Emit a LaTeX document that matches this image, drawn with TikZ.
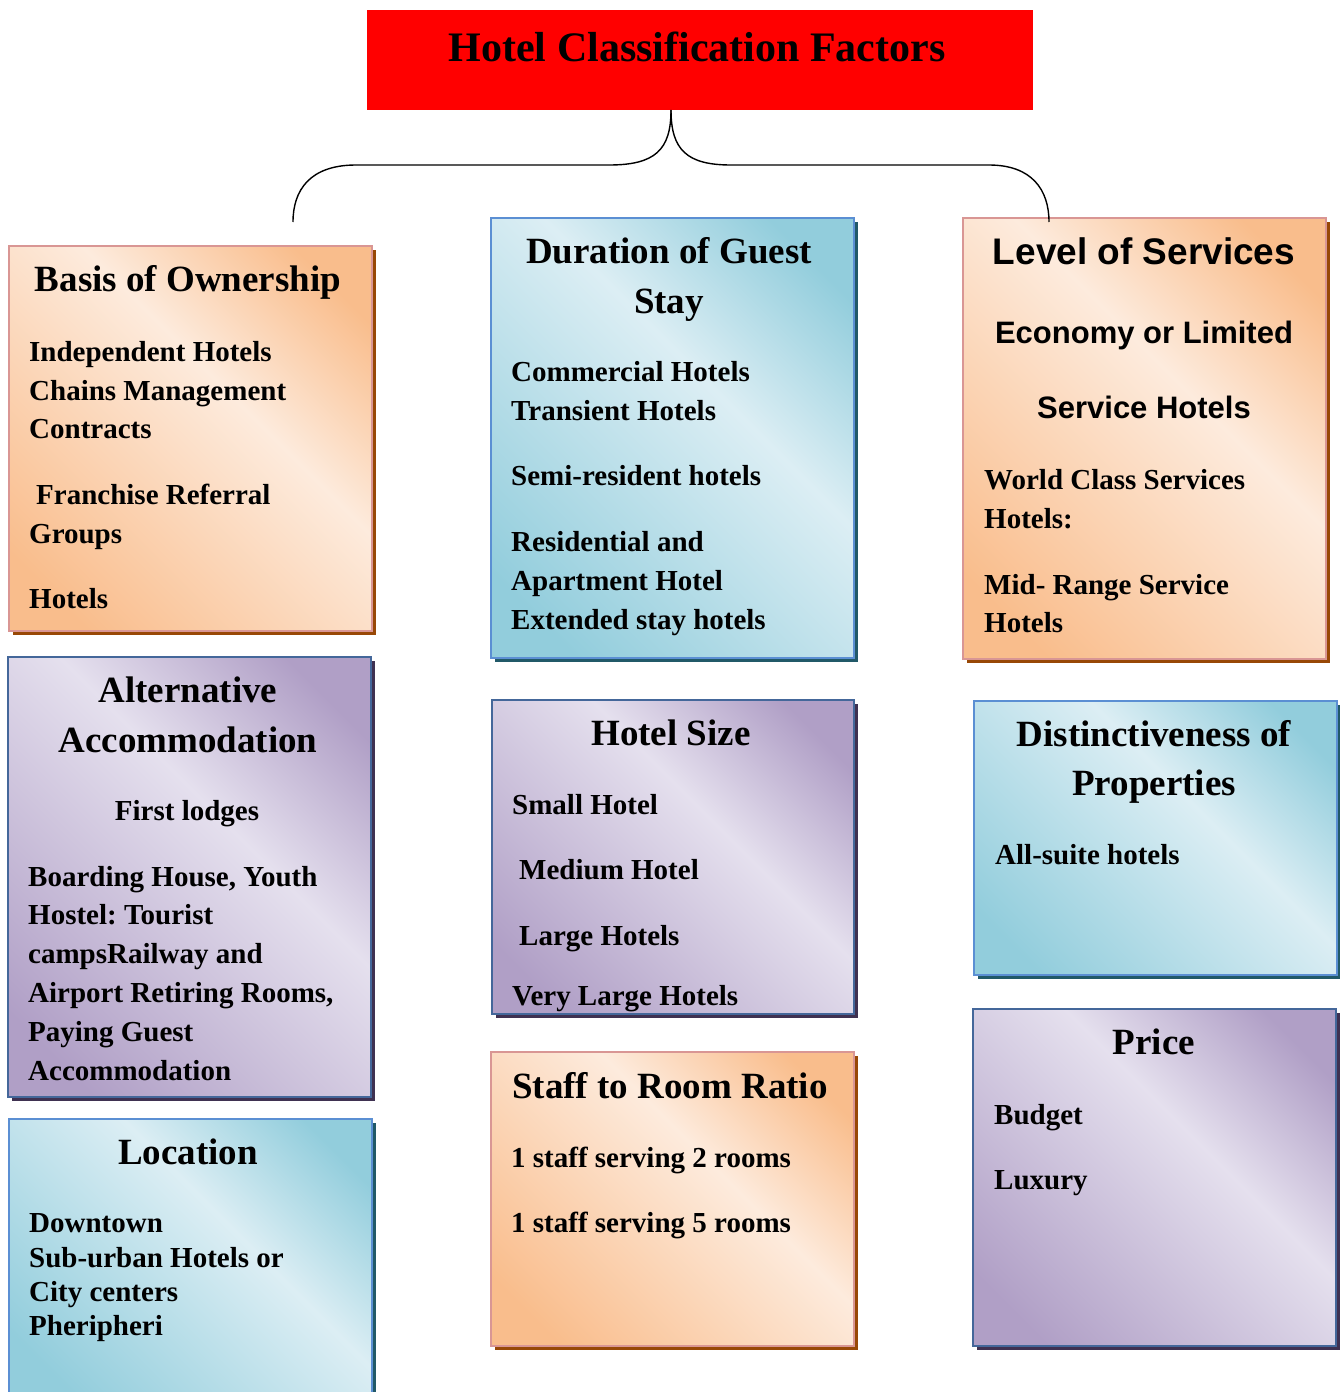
\documentclass[tikz,border=0pt]{standalone}
\usepackage{fontspec}
\setmainfont{Liberation Serif}
\newfontfamily\arialfont{Liberation Sans}
\usetikzlibrary{positioning, shadows}
\frenchspacing

\definecolor{titlered}{HTML}{FF0000}
\definecolor{orgdark}{HTML}{F9BD8C}
\definecolor{orglight}{HTML}{FDEBDD}
\definecolor{orgline}{HTML}{D99694}
\definecolor{orgshadow}{HTML}{984806}
\definecolor{bludark}{HTML}{92CDDC}
\definecolor{blulight}{HTML}{DCEEF4}
\definecolor{bluline}{HTML}{5B8FD3}
\definecolor{blushadow}{HTML}{215968}
\definecolor{purdark}{HTML}{B09FC6}
\definecolor{purlight}{HTML}{E5E0EE}
\definecolor{purline}{HTML}{44679A}
\definecolor{purshadow}{HTML}{3F3151}

% diagonal shine, light band a little off centre
\pgfdeclareverticalshading{orgshine}{100bp}{color(0bp)=(orgdark); color(22bp)=(orgdark);
  color(58bp)=(orglight); color(78bp)=(orgdark); color(100bp)=(orgdark)}
\pgfdeclareverticalshading{blushine}{100bp}{color(0bp)=(bludark); color(22bp)=(bludark);
  color(58bp)=(blulight); color(78bp)=(bludark); color(100bp)=(bludark)}
\pgfdeclareverticalshading{purshine}{100bp}{color(0bp)=(purdark); color(22bp)=(purdark);
  color(58bp)=(purlight); color(78bp)=(purdark); color(100bp)=(purdark)}

\begin{document}
\begin{tikzpicture}[
  x=1pt, y=-1pt,
  box/.style={rectangle, anchor=north west, inner sep=0pt, line width=1.5pt, shade},
  orangebox/.style={box, draw=orgline, shading=orgshine, shading angle=-45,
              drop shadow={shadow xshift=4pt, shadow yshift=-4pt, opacity=1, fill=orgshadow}},
  bluebox/.style={box, draw=bluline, shading=blushine, shading angle=-45,
              drop shadow={shadow xshift=4pt, shadow yshift=-4pt, opacity=1, fill=blushadow}},
  purplebox/.style={box, draw=purline, shading=purshine, shading angle=-45,
              drop shadow={shadow xshift=4pt, shadow yshift=-4pt, opacity=1, fill=purshadow}},
  head/.style={anchor=base, inner sep=0pt, font=\fontsize{37}{44}\selectfont\bfseries},
  arialhead/.style={anchor=base, inner sep=0pt, font=\fontsize{37}{44}\selectfont\arialfont\bfseries},
  arialitem/.style={anchor=base, inner sep=0pt, font=\fontsize{31}{37}\selectfont\arialfont\bfseries},
  item/.style={anchor=base west, inner sep=0pt, font=\fontsize{29}{35}\selectfont\bfseries},
  brace/.style={line width=1.4pt, black},
]
  \useasboundingbox (0,0) rectangle (1340,1392);

  % --- title ---
  \node[rectangle, anchor=north west, fill=titlered, minimum width=666pt,
        minimum height=100pt] (title) at (367,10) {};
  \node[head, font=\fontsize{42}{50}\selectfont\bfseries] (titletxt) at (697,61)
    {Hotel Classification Factors};
  \coordinate (tip) at (671,110);

  % --- boxes ---
  \node[orangebox, minimum width=363pt, minimum height=385pt] (own) at (8,245) {};
  \node[bluebox, minimum width=363pt, minimum height=440pt] (stay) at (490,217) {};
  \node[orangebox, minimum width=363pt, minimum height=441pt] (serv) at (962,217) {};
  \node[purplebox, minimum width=363pt, minimum height=440pt] (alt) at (7,656) {};
  \node[purplebox, minimum width=362pt, minimum height=314pt] (size) at (491,699) {};
  \node[bluebox, minimum width=363pt, minimum height=274pt] (dist) at (973,700) {};
  \node[bluebox, minimum width=363pt, minimum height=280pt] (loc) at (8,1118) {};
  \node[orangebox, minimum width=363pt, minimum height=294pt] (staff) at (490,1051) {};
  \node[purplebox, minimum width=363pt, minimum height=337pt] (price) at (972,1008) {};

  % --- brace from the title ---
  \draw[brace] (tip) .. controls (671,150) and (655,165) .. (609,165)
    -- (356,165) .. controls (310,165) and (293,190) .. (293,222);
  \draw[brace] (tip) .. controls (671,150) and (687,165) .. (731,165)
    -- (989,165) .. controls (1032,165) and (1049,190) .. (1049,222);

  % --- basis of ownership ---
  \node[head] (own-h) at (188,291) {Basis of Ownership};
  \node[item] (own-1) at (29,361) {Independent Hotels};
  \node[item] (own-2) at (29,400) {Chains Management};
  \node[item] (own-3) at (29,438) {Contracts};
  \node[item] (own-4) at (36,504) {Franchise Referral};
  \node[item] (own-5) at (29,543) {Groups};
  \node[item] (own-6) at (29,608) {Hotels};

  % --- duration of guest stay ---
  \node[head] (stay-h1) at (669,263) {Duration of Guest};
  \node[head] (stay-h2) at (669,313) {Stay};
  \node[item] (stay-1) at (511,381) {Commercial Hotels};
  \node[item] (stay-2) at (511,420) {Transient Hotels};
  \node[item] (stay-3) at (511,485) {Semi-resident hotels};
  \node[item] (stay-4) at (511,551) {Residential and};
  \node[item] (stay-5) at (511,590) {Apartment Hotel};
  \node[item] (stay-6) at (511,629) {Extended stay hotels};

  % --- level of services ---
  \node[arialhead] (serv-h) at (1144,264) {Level of Services};
  \node[arialitem] (serv-a) at (1144,343) {Economy or Limited};
  \node[arialitem] (serv-b) at (1144,418) {Service Hotels};
  \node[item] (serv-1) at (984,489) {World Class Services};
  \node[item] (serv-2) at (984,528) {Hotels:};
  \node[item] (serv-3) at (984,594) {Mid- Range Service};
  \node[item] (serv-4) at (984,632) {Hotels};

  % --- alternative accommodation ---
  \node[head] (alt-h1) at (188,702) {Alternative};
  \node[head] (alt-h2) at (188,752) {Accommodation};
  \node[item, anchor=base] (alt-0) at (187,820) {First lodges};
  \node[item] (alt-1) at (28,886) {Boarding House, Youth};
  \node[item] (alt-2) at (28,924) {Hostel: Tourist};
  \node[item] (alt-3) at (28,963) {campsRailway and};
  \node[item] (alt-4) at (28,1002) {Airport Retiring Rooms,};
  \node[item] (alt-5) at (28,1041) {Paying Guest};
  \node[item] (alt-6) at (28,1080) {Accommodation};

  % --- hotel size ---
  \node[head] (size-h) at (671,745) {Hotel Size};
  \node[item] (size-1) at (512,814) {Small Hotel};
  \node[item] (size-2) at (519,879) {Medium Hotel};
  \node[item] (size-3) at (519,945) {Large Hotels};
  \node[item] (size-4) at (512,1005) {Very Large Hotels};

  % --- distinctiveness of properties ---
  \node[head] (dist-h1) at (1154,746) {Distinctiveness of};
  \node[head] (dist-h2) at (1154,795) {Properties};
  \node[item] (dist-1) at (995,864) {All-suite hotels};

  % --- location ---
  \node[head] (loc-h) at (188,1164) {Location};
  \node[item] (loc-1) at (29,1232) {Downtown};
  \node[item] (loc-2) at (29,1267) {Sub-urban Hotels or};
  \node[item] (loc-3) at (29,1301) {City centers};
  \node[item] (loc-4) at (29,1335) {Pheripheri};

  % --- staff to room ratio ---
  \node[head] (staff-h) at (670,1098) {Staff to Room Ratio};
  \node[item] (staff-1) at (511,1167) {1 staff serving 2 rooms};
  \node[item] (staff-2) at (511,1232) {1 staff serving 5 rooms};

  % --- price ---
  \node[head] (price-h) at (1154,1054) {Price};
  \node[item] (price-1) at (994,1124) {Budget};
  \node[item] (price-2) at (994,1189) {Luxury};
\end{tikzpicture}
\end{document}
